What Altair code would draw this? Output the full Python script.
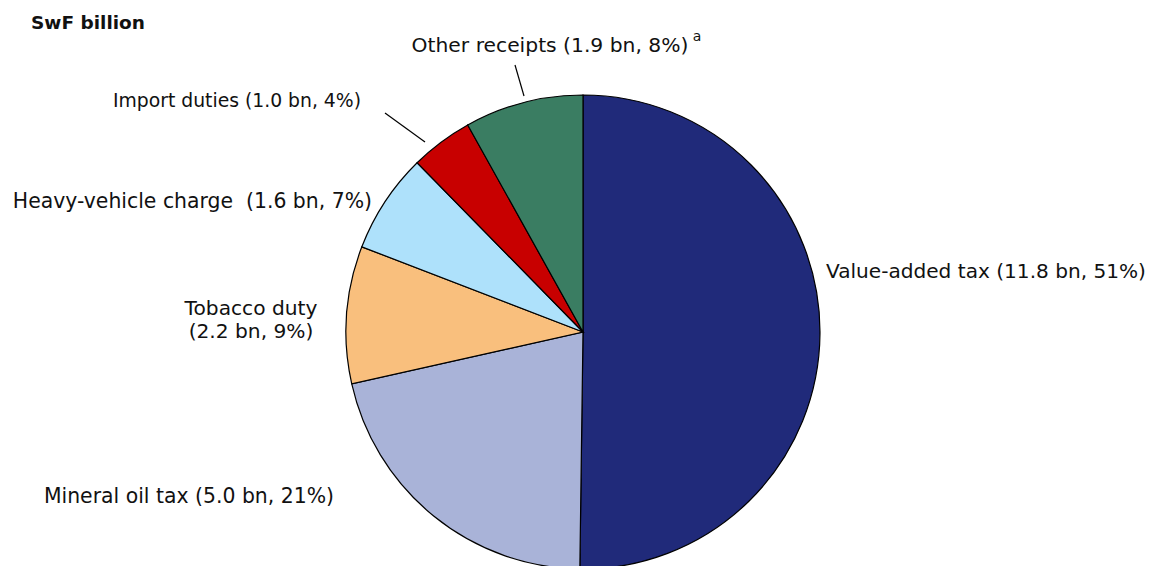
import altair as alt
import pandas as pd

# Data
categories = ["Value-added tax", "Mineral oil tax", "Tobacco duty",
              "Heavy-vehicle charge", "Import duties", "Other receipts"]
values_bn = [11.8, 5.0, 2.2, 1.6, 1.0, 1.9]
label_texts = ["Value-added tax (11.8 bn, 51%)",
               "Mineral oil tax (5.0 bn, 21%)",
               "Tobacco duty\n(2.2 bn, 9%)",
               "Heavy-vehicle charge\u00a0\u00a0(1.6 bn, 7%)",
               "Import duties (1.0 bn, 4%)",
               "Other receipts (1.9 bn, 8%)"]

# Styles / layout
colors = ["#202A7A", "#A9B3D8", "#F9BF7D", "#AEE1FB", "#C80000", "#3A7D62"]
label_x = [826, 334, 251, 372, 361, 550]
label_y = [272, 497, 309, 202, 101, 46]
label_align = ["left", "right", "center", "right", "right", "center"]
label_size = [20.1, 20.4, 20.2, 20.4, 18.8, 20.3]
leader_lines = [  # x, y, x2, y2
    (385, 113, 425, 142),
    (515, 65, 524, 96),
]
CX, CY, R = 583, 332, 237
W, H = 1156, 566
FONT = "DejaVu Sans"

pie_df = pd.DataFrame({"category": categories, "value": values_bn,
                       "order": list(range(len(categories)))})

pie = alt.Chart(pie_df).mark_arc(radius=R, stroke="black", strokeWidth=1.2).encode(
    theta=alt.Theta("value:Q", stack=True),
    order=alt.Order("order:Q"),
    color=alt.Color("category:N", scale=alt.Scale(domain=categories, range=colors), legend=None),
    x=alt.value(CX),
    y=alt.value(CY),
)

lab_df = pd.DataFrame({"text": label_texts, "x": label_x, "y": label_y,
                       "align": label_align, "fs": label_size})

layers = [pie]
for al in ["left", "right", "center"]:
    sub = lab_df[lab_df["align"] == al]
    layers.append(
        alt.Chart(sub).mark_text(font=FONT, align=al, baseline="middle",
                                 color="#111111", lineBreak="\n", lineHeight=23).encode(
            x=alt.X("x:Q", scale=None), y=alt.Y("y:Q", scale=None), text="text:N",
            size=alt.Size("fs:Q", scale=None, legend=None))
    )

lines_df = pd.DataFrame(leader_lines, columns=["x", "y", "x2", "y2"])
rules = alt.Chart(lines_df).mark_rule(color="black", strokeWidth=1.2).encode(
    x=alt.X("x:Q", scale=None), y=alt.Y("y:Q", scale=None),
    x2="x2:Q", y2="y2:Q")
layers.append(rules)

sup = alt.Chart(pd.DataFrame({"t": ["a"], "x": [697], "y": [37]})).mark_text(
    font=FONT, fontSize=14, color="#111111", baseline="middle").encode(
    x=alt.X("x:Q", scale=None), y=alt.Y("y:Q", scale=None), text="t:N")
layers.append(sup)

title = alt.Chart(pd.DataFrame({"t": ["SwF billion"], "x": [31], "y": [23]})).mark_text(
    font=FONT, fontSize=18.5, fontWeight="bold", align="left", baseline="middle", color="#111111").encode(
    x=alt.X("x:Q", scale=None), y=alt.Y("y:Q", scale=None), text="t:N")
layers.append(title)

chart = alt.layer(*layers).properties(
    width=W, height=H, padding=0, autosize=alt.AutoSizeParams(type="none")
).configure_view(stroke=None)

chart.save("out.html", embed_options={"renderer": "svg", "actions": False})
